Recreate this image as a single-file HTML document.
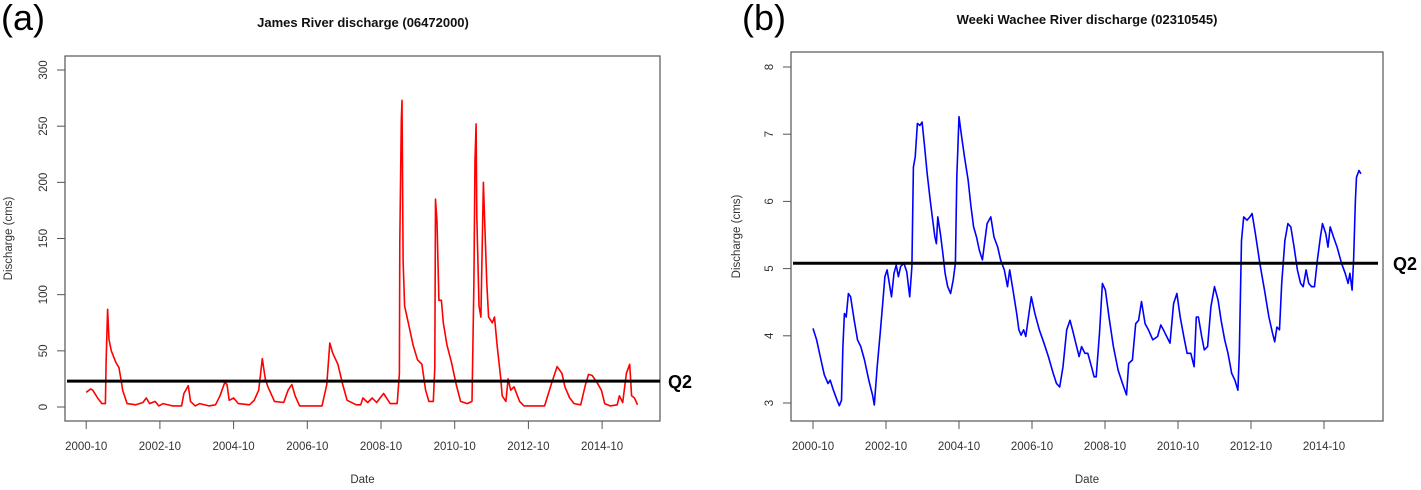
<!DOCTYPE html>
<html><head><meta charset="utf-8"><style>
body{margin:0;background:#fff;width:1421px;height:485px;overflow:hidden}
svg text{font-family:"Liberation Sans",Arial,sans-serif}
</style></head><body>
<svg id="s" width="1421" height="485" xmlns="http://www.w3.org/2000/svg"></svg>
<script>
const jamesDates=[2000.75,2000.87,2000.93,2001.06,2001.18,2001.27,2001.29,2001.33,2001.37,2001.43,2001.55,2001.64,2001.74,2001.86,2002.10,2002.29,2002.38,2002.47,2002.62,2002.72,2002.84,2003.09,2003.34,2003.40,2003.52,2003.58,2003.71,2003.83,2004.08,2004.26,2004.38,2004.51,2004.57,2004.63,2004.75,2004.88,2005.18,2005.31,2005.43,2005.53,2005.61,2005.68,2005.86,2006.11,2006.23,2006.33,2006.42,2006.54,2007.15,2007.28,2007.36,2007.44,2007.58,2007.71,2007.83,2008.08,2008.20,2008.26,2008.39,2008.51,2008.63,2008.82,2009.00,2009.19,2009.25,2009.26,2009.30,2009.32,2009.35,2009.39,2009.49,2009.62,2009.74,2009.86,2009.96,2010.05,2010.17,2010.21,2010.23,2010.27,2010.32,2010.39,2010.44,2010.54,2010.66,2010.79,2010.91,2011.09,2011.22,2011.27,2011.30,2011.33,2011.35,2011.41,2011.46,2011.53,2011.56,2011.62,2011.67,2011.77,2011.83,2011.90,2012.00,2012.04,2012.14,2012.20,2012.27,2012.36,2012.51,2012.63,2013.19,2013.37,2013.53,2013.66,2013.74,2013.87,2013.99,2014.17,2014.30,2014.38,2014.48,2014.61,2014.73,2014.82,2014.97,2015.16,2015.22,2015.31,2015.41,2015.50,2015.55,2015.63,2015.71];
const jamesFlow=[13,16,15,8,3,3,40,87,60,50,40,35,15,3,2,4,8,3,5,1,3,1,1,12,19,5,1,3,1,2,10,22,20,6,8,3,2,6,15,43,25,18,5,4,15,20,10,1,1,20,57,48,38,20,6,2,2,8,4,8,4,12,3,3,30,147,255,273,130,90,75,55,42,38,15,5,5,35,185,165,95,95,75,55,40,20,5,3,5,110,220,252,170,90,80,200,170,110,80,75,80,55,25,10,5,25,15,18,5,1,1,20,36,30,18,8,3,2,20,29,28,22,15,3,1,2,10,4,30,38,10,8,2];
const weekiDates=[2000.75,2000.85,2000.97,2001.06,2001.16,2001.22,2001.31,2001.41,2001.47,2001.53,2001.57,2001.61,2001.66,2001.72,2001.78,2001.88,2001.97,2002.06,2002.16,2002.28,2002.38,2002.43,2002.51,2002.59,2002.66,2002.72,2002.78,2002.84,2002.90,2002.97,2003.03,2003.09,2003.15,2003.24,2003.32,2003.40,2003.46,2003.50,2003.55,2003.61,2003.68,2003.74,2003.80,2003.88,2003.96,2004.03,2004.09,2004.13,2004.17,2004.24,2004.31,2004.37,2004.44,2004.52,2004.59,2004.65,2004.69,2004.75,2004.81,2004.90,2005.00,2005.08,2005.15,2005.23,2005.31,2005.39,2005.46,2005.52,2005.62,2005.71,2005.81,2005.89,2005.99,2006.08,2006.14,2006.23,2006.33,2006.39,2006.45,2006.52,2006.58,2006.64,2006.73,2006.83,2006.95,2007.08,2007.20,2007.33,2007.42,2007.51,2007.60,2007.70,2007.79,2007.86,2007.95,2008.04,2008.11,2008.20,2008.28,2008.38,2008.45,2008.51,2008.60,2008.68,2008.76,2008.86,2008.98,2009.11,2009.23,2009.34,2009.40,2009.50,2009.59,2009.67,2009.75,2009.85,2009.94,2010.06,2010.19,2010.28,2010.35,2010.44,2010.53,2010.63,2010.72,2010.81,2010.91,2011.00,2011.10,2011.19,2011.25,2011.31,2011.40,2011.47,2011.56,2011.65,2011.75,2011.85,2011.93,2012.03,2012.12,2012.22,2012.31,2012.39,2012.43,2012.49,2012.55,2012.64,2012.72,2012.78,2012.87,2012.99,2013.12,2013.24,2013.34,2013.40,2013.46,2013.53,2013.59,2013.68,2013.76,2013.84,2013.93,2014.02,2014.11,2014.18,2014.26,2014.33,2014.41,2014.49,2014.57,2014.65,2014.71,2014.80,2014.86,2014.92,2015.01,2015.11,2015.23,2015.33,2015.41,2015.46,2015.52,2015.56,2015.61,2015.64,2015.71,2015.76];
const weekiFlow=[4.11,3.94,3.64,3.42,3.29,3.34,3.19,3.04,2.96,3.04,3.84,4.33,4.28,4.63,4.58,4.23,3.94,3.84,3.64,3.34,3.12,2.97,3.54,4.04,4.48,4.88,4.98,4.78,4.58,4.93,5.05,4.88,5.03,5.08,4.95,4.58,5.03,6.51,6.66,7.16,7.13,7.18,6.86,6.41,6.02,5.72,5.47,5.37,5.77,5.52,5.22,4.93,4.73,4.63,4.83,5.08,6.36,7.26,7.01,6.66,6.32,5.92,5.62,5.47,5.27,5.13,5.42,5.67,5.77,5.47,5.32,5.13,4.98,4.73,4.98,4.68,4.33,4.09,4.01,4.09,3.99,4.23,4.58,4.33,4.09,3.89,3.69,3.44,3.29,3.24,3.54,4.09,4.23,4.09,3.89,3.69,3.84,3.74,3.74,3.54,3.39,3.39,4.04,4.78,4.68,4.28,3.84,3.49,3.29,3.12,3.59,3.64,4.18,4.23,4.51,4.18,4.09,3.94,3.99,4.16,4.09,3.99,3.89,4.48,4.63,4.28,3.99,3.74,3.74,3.54,4.28,4.28,3.99,3.79,3.84,4.43,4.73,4.53,4.23,3.94,3.74,3.44,3.34,3.19,3.74,5.42,5.77,5.72,5.77,5.82,5.52,5.08,4.68,4.28,4.04,3.91,4.13,4.09,4.78,5.42,5.67,5.62,5.32,4.98,4.78,4.73,4.98,4.78,4.73,4.73,5.13,5.47,5.67,5.52,5.32,5.62,5.47,5.32,5.08,4.93,4.78,4.93,4.68,5.13,6.02,6.36,6.46,6.41];
const xTickYears=[2000.75,2002.75,2004.75,2006.75,2008.75,2010.75,2012.75,2014.75];
const xTickLabels=["2000-10","2002-10","2004-10","2006-10","2008-10","2010-10","2012-10","2014-10"];
const jamesYTicks=[0,50,100,150,200,250,300];
const weekiYTicks=[3,4,5,6,7,8];
const jamesQ2=[23];
const weekiQ2=[5.08];

const S=document.getElementById('s');
const NS='http://www.w3.org/2000/svg';
function mk(tag,attrs,name,text){const e=document.createElementNS(NS,tag);for(const k in attrs)e.setAttribute(k,attrs[k]);


if(text!==undefined)e.textContent=text;S.appendChild(e);return e;}

function panel(p){
  const xs=v=>p.x0+(v-2000.75)*p.xPerYear;
  const ys=v=>p.y0-(v-p.v0)*p.yPerUnit;
  mk('text',{x:p.lx,y:p.ly,'font-size':36,fill:'#000','font-family':'Liberation Sans'},'panel-label',p.label);
  mk('text',{x:p.tx,y:p.ty,'font-size':13,'font-weight':'bold','text-anchor':'middle',fill:'#111'},'chart-title',p.title);
  mk('rect',{x:p.bx,y:p.by,width:p.bw,height:p.bh,fill:'none',stroke:'#555','stroke-width':1.2},'plot-frame');
  xTickYears.forEach((t,i)=>{const x=xs(t);
    mk('line',{x1:x,y1:p.by+p.bh,x2:x,y2:p.by+p.bh+8,stroke:'#555'},'x-tick');
    mk('text',{x:x,y:p.by+p.bh+29,'font-size':11.5,'text-anchor':'middle',fill:'#333'},'x-tick-label',xTickLabels[i]);});
  p.yt.forEach(v=>{const y=ys(v);
    mk('line',{x1:p.bx-8,y1:y,x2:p.bx,y2:y,stroke:'#555'},'y-tick');
    mk('text',{x:p.bx-22,y:y,'font-size':11.5,'text-anchor':'middle',fill:'#333',transform:`rotate(-90 ${p.bx-22} ${y})`,dy:4},'y-tick-label',String(v));});
  const cy=p.by+p.bh/2;
  mk('text',{x:p.yax,y:cy,'font-size':11.5,'text-anchor':'middle',fill:'#333',transform:`rotate(-90 ${p.yax} ${cy})`},'y-axis-title','Discharge (cms)');
  mk('text',{x:p.bx+p.bw/2,y:483,'font-size':11.5,'text-anchor':'middle',fill:'#333'},'x-axis-title','Date');
  let d='';p.dates.forEach((t,i)=>{d+=(i?'L':'M')+xs(t).toFixed(1)+','+ys(p.vals[i]).toFixed(1);});
  mk('path',{d:d,fill:'none',stroke:p.color,'stroke-width':1.6,'stroke-linejoin':'round'},'discharge-line');
  const qy=ys(p.q2[0]);
  mk('line',{x1:p.qx1,y1:qy,x2:p.qx2,y2:qy,stroke:'#000','stroke-width':3},'q2-line');
  mk('text',{x:p.qlx,y:qy+7,'font-size':18,'font-weight':'bold',fill:'#000'},'q2-label','Q2');
}
panel({label:'(a)',lx:1,ly:30,title:'James River discharge (06472000)',tx:363,ty:27,
  bx:65,by:56,bw:595,bh:365,x0:86.2,xPerYear:36.85,y0:407,v0:0,yPerUnit:1.1233,
  yt:jamesYTicks,yax:12,dates:jamesDates,vals:jamesFlow,color:'#ff0000',q2:jamesQ2,qx1:67,qx2:660,qlx:668});
panel({label:'(b)',lx:742,ly:30,title:'Weeki Wachee River discharge (02310545)',tx:1087,ty:24,
  bx:791,by:52,bw:592,bh:369,x0:813,xPerYear:36.5,y0:403,v0:3,yPerUnit:67.2,
  yt:weekiYTicks,yax:740,dates:weekiDates,vals:weekiFlow,color:'#0000ff',q2:weekiQ2,qx1:793,qx2:1378,qlx:1393});
</script>
</body></html>
